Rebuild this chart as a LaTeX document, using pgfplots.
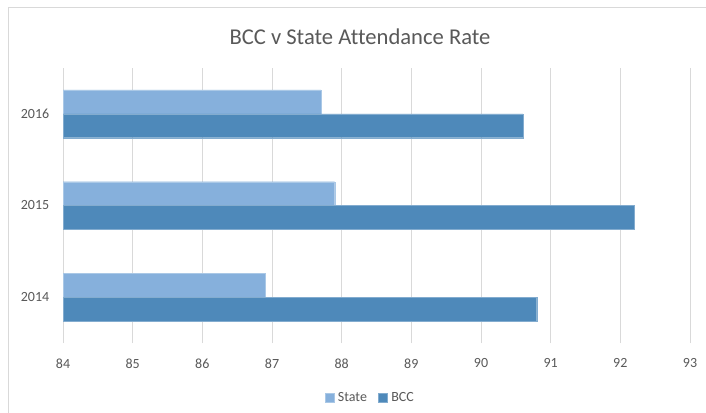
\documentclass[border=0pt]{standalone}
\usepackage{pgfplots}
\pgfplotsset{compat=1.18}
\usepackage{fontspec}
\setmainfont{Carlito}[Ligatures=NoCommon]

\definecolor{statecol}{HTML}{86B0DC}
\definecolor{bcccol}{HTML}{4E89BA}
\definecolor{txtcol}{HTML}{595959}
\definecolor{gridcol}{HTML}{D9D9D9}

\begin{document}
\begin{tikzpicture}[x=1pt,y=1pt]
\useasboundingbox (0,0) rectangle (706,412);
\fill[white] (0,0) rectangle (706,412);
\draw[gridcol, line width=1pt] (8,-20) rectangle (730,404);
\node[text=txtcol, font=\fontsize{22.6}{26}\selectfont] at (360,375) {BCC v State Attendance Rate};

\begin{axis}[
  at={(63pt,69pt)}, anchor=south west,
  scale only axis, width=627pt, height=275pt,
  xbar, bar width=0.26,
  xmin=84, xmax=93, xtick={84,...,93},
  ymin=-0.5, ymax=2.5,
  ytick={0,1,2}, yticklabels={2014,2015,2016},
  axis line style={draw=none},
  xmajorgrids, grid style={gridcol, line width=1pt},
  major tick style={draw=none},
  tick label style={text=txtcol, font=\fontsize{14}{16}\selectfont},
  /pgf/number format/assume math mode=true,
  xticklabel style={yshift=-12pt},
  yticklabel style={xshift=-6pt},
  legend style={at={(0.49,-0.165)}, anchor=north, draw=none, fill=none,
    legend columns=2, font=\fontsize{14}{16}\selectfont, text=txtcol,
    /tikz/every odd column/.append style={column sep=2pt},
    /tikz/every even column/.append style={column sep=9pt}},
  legend image code/.code={\fill[#1] (0,-4.5pt) rectangle (9pt,4.5pt);},
]
\addplot[fill=statecol, draw=statecol!70!white, line width=0.3pt, bar shift=0.13]
  coordinates {(86.9,0) (87.9,1) (87.7,2)};
\addplot[fill=bcccol, draw=bcccol!70!white, line width=0.3pt, bar shift=-0.13]
  coordinates {(90.8,0) (92.2,1) (90.6,2)};
\legend{State, BCC}
\end{axis}
\end{tikzpicture}
\end{document}
